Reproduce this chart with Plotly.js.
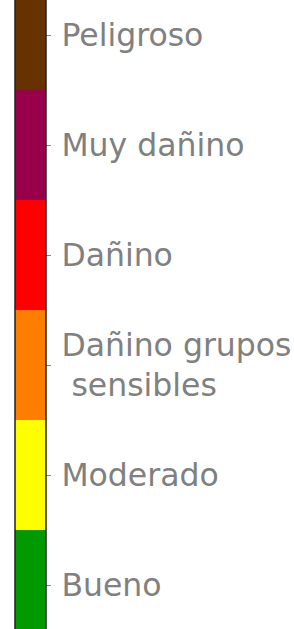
<!DOCTYPE html>
<html><head><meta charset="utf-8">
<script src="https://cdn.plot.ly/plotly-3.0.1.min.js"></script>
<style>html,body{margin:0;padding:0;background:#fff;}#chart{width:294px;height:629px;}</style>
</head><body><div id="chart"></div>
<script>
const categories = ["Bueno", "Moderado", "Dañino grupos<br>sensibles", "Dañino", "Muy dañino", "Peligroso"];
const levelValues = [0.5, 1.5, 2.5, 3.5, 4.5, 5.5];
const levelColors = ["#009a00", "#ffff00", "#ff7e00", "#ff0000", "#99004c", "#663300"];

const n = levelColors.length;
const colorscale = [];
levelColors.forEach((c, i) => {
  colorscale.push([i / n, c]);
  colorscale.push([(i + 1) / n, c]);
});

// small leading gap between tick and label (applied to every line)
const gap = '<span style="font-size:12px">\u00a0</span>';
const tickLabels = categories.map(s => s.split('<br>').map((line, i) => gap + (i > 0 ? '\u00a0' : '') + line).join('<br>'));

const trace = {
  type: 'scatter', mode: 'markers',
  x: levelValues.map(() => -10), y: levelValues.map(() => -10),
  hoverinfo: 'skip',
  marker: {
    color: levelValues, cmin: 0, cmax: n, colorscale: colorscale, showscale: true,
    colorbar: {
      x: 15 / 294, xanchor: 'left', xpad: 0, ypad: 0,
      y: 1 - 310 / 629, yanchor: 'middle',
      lenmode: 'pixels', len: 660,
      thicknessmode: 'pixels', thickness: 31,
      outlinewidth: 1.5, outlinecolor: '#222',
      tickmode: 'array', tickvals: levelValues, ticktext: tickLabels,
      ticks: 'outside', ticklen: 5, tickwidth: 1, tickcolor: '#808080',
      tickfont: {family: 'DejaVu Sans', size: 31.5, color: '#808080'}
    }
  }
};

Plotly.newPlot('chart', [trace], {
  width: 294, height: 629,
  margin: {l: 0, r: 0, t: 0, b: 0},
  paper_bgcolor: '#fff', plot_bgcolor: '#fff',
  showlegend: false,
  xaxis: {visible: false, range: [0, 1]},
  yaxis: {visible: false, range: [0, 1]}
}, {staticPlot: true});
</script></body></html>
